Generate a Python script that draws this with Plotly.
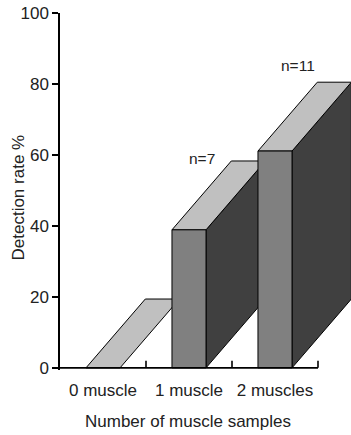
import plotly.graph_objects as go

categories = ["0 muscle", "1 muscle", "2 muscles"]
detection_rate = [0.0, 38.9, 61.1]
n_labels = ["", "n=7", "n=11"]
y_ticks = [0, 20, 40, 60, 80, 100]

# style constants for the pseudo-3D look
HALF_W = 0.198      # half bar width (category units)
DEPTH_X = 0.69      # depth offset in category units
DEPTH_Y = 19.4      # depth offset in y units
TOP_COL = "#c0c0c0"
FRONT_COL = "#808080"
SIDE_COL = "#404040"
EDGE = dict(color="#000000", width=1)

fig = go.Figure()

def face(xs, ys, col):
    fig.add_trace(go.Scatter(x=xs + [xs[0]], y=ys + [ys[0]], mode="lines",
                             fill="toself", fillcolor=col, line=EDGE,
                             hoverinfo="skip", showlegend=False))

for i, v in enumerate(detection_rate):
    c = i
    l, r = c - HALF_W, c + HALF_W
    if v > 0:
        face([r, r + DEPTH_X, r + DEPTH_X, r], [0, DEPTH_Y, v + DEPTH_Y, v], SIDE_COL)
    face([l, r, r + DEPTH_X, l + DEPTH_X], [v, v, v + DEPTH_Y, v + DEPTH_Y], TOP_COL)
    if v > 0:
        face([l, r, r, l], [0, 0, v, v], FRONT_COL)

# x baseline with inward category-boundary ticks
n = len(categories)
bx, by = [-0.5, n - 0.5], [0, 0]
for k in range(n):
    bx += [None, k + 0.5, k + 0.5]
    by += [None, 0, 2.0]
fig.add_trace(go.Scatter(x=bx, y=by, mode="lines", line=dict(color="#000", width=1.6),
                         hoverinfo="skip", showlegend=False))

label_x_off = [0, 0.151, 0.262]
label_y = [0, 59.1, 85.3]
for i, t in enumerate(n_labels):
    if t:
        fig.add_annotation(x=i + label_x_off[i], y=label_y[i], text=t, showarrow=False,
                           font=dict(size=15.5, color="#222"), xanchor="center", yanchor="middle")

fig.add_annotation(xref="paper", yref="paper", x=(18.5 - 60) / 291, y=(370 - 198) / 357,
                   text="Detection rate %", textangle=-90, showarrow=False,
                   font=dict(size=17, color="#222"), xanchor="center", yanchor="middle")
fig.add_annotation(xref="paper", yref="paper", x=(188 - 60) / 291, y=(370 - 421) / 357,
                   text="Number of muscle samples", showarrow=False,
                   font=dict(size=17, color="#222"), xanchor="center", yanchor="middle")

fig.update_layout(
    width=351, height=435,
    margin=dict(l=60, r=0, t=13, b=65, autoexpand=False),
    plot_bgcolor="white", paper_bgcolor="white",
    font=dict(family="Arial, Liberation Sans, sans-serif", size=17, color="#222"),
    xaxis=dict(range=[-0.5, -0.5 + 291 / 86], showline=False, showgrid=False, zeroline=False,
               tickvals=list(range(n)), ticktext=categories, ticks="",
               ticklabelstandoff=8, fixedrange=True),
    yaxis=dict(range=[-0.6, 100], showline=True, linecolor="#000", linewidth=1.5,
               showgrid=False, zeroline=False, tickvals=y_ticks, ticks="outside",
               ticklen=6, tickwidth=1.5, tickcolor="#000", fixedrange=True),
)

fig.write_html("out.html")
